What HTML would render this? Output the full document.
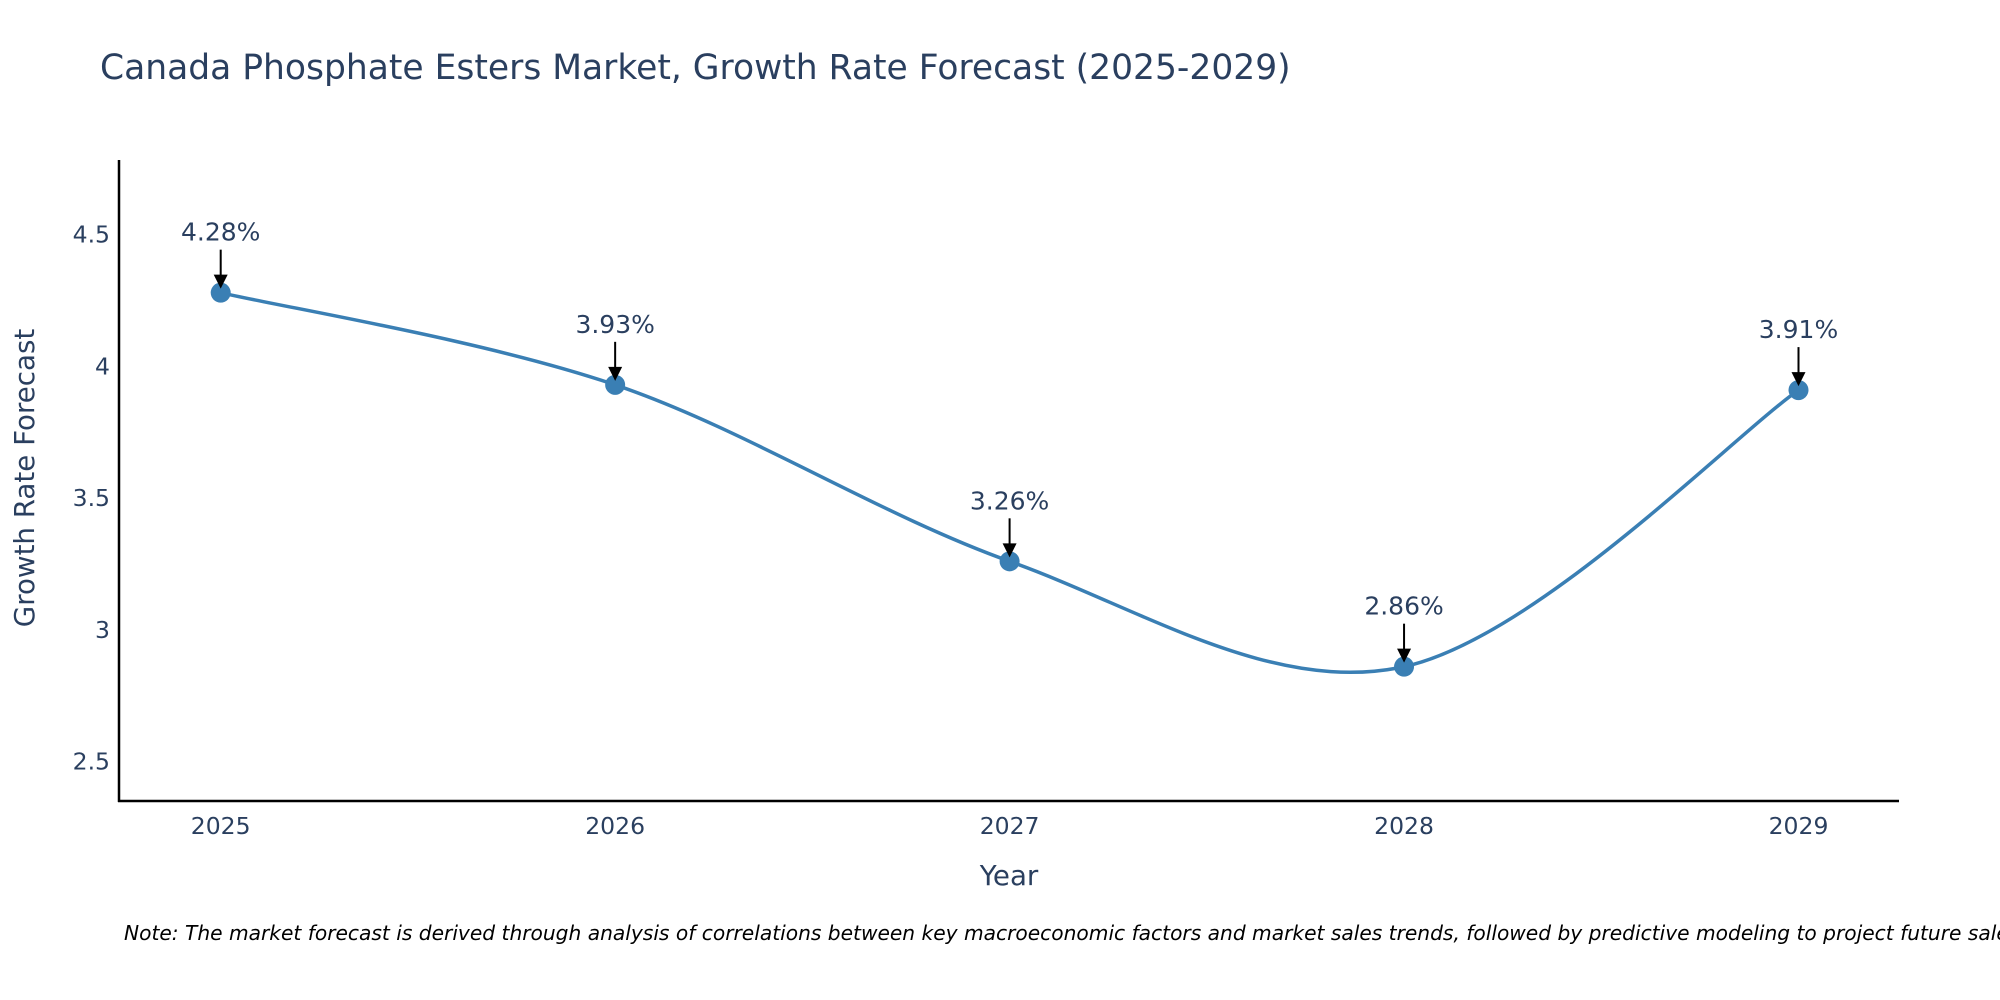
<!DOCTYPE html>
<html><head><meta charset="utf-8">
<style>
html,body{margin:0;padding:0;background:#fff;}
svg{display:block;font-family:"DejaVu Sans","Liberation Sans",sans-serif;}
</style></head>
<body>
<svg id="chart" width="2000" height="1000" viewBox="0 0 2000 1000">
  <text x="100" y="79" font-size="34.5" fill="#2a3f5f">Canada Phosphate Esters Market, Growth Rate Forecast (2025-2029)</text>
  <g id="yticks"></g>
  <g id="xticks"></g>
  <line x1="119" y1="160" x2="119" y2="802" stroke="#000" stroke-width="2.5"/>
  <line x1="118" y1="801" x2="1899" y2="801" stroke="#000" stroke-width="2.5"/>
  <text transform="translate(34,478) rotate(-90)" text-anchor="middle" font-size="27.7" fill="#2a3f5f">Growth Rate Forecast</text>
  <text x="1009" y="885" text-anchor="middle" font-size="27.7" fill="#2a3f5f">Year</text>
  <g id="series"></g>
  <g id="annots"></g>
  <text x="124" y="940" font-size="20.2" font-style="italic" fill="#000">Note: The market forecast is derived through analysis of correlations between key macroeconomic factors and market sales trends, followed by predictive modeling to project future sales.</text>
</svg>
<script>
const years = ["2025","2026","2027","2028","2029"];
const growth = [4.28, 3.93, 3.26, 2.86, 3.91];
const labels = ["4.28%","3.93%","3.26%","2.86%","3.91%"];
const yTickValues = [2.5, 3, 3.5, 4, 4.5];
const yTickLabels = ["2.5","3","3.5","4","4.5"];

const NS = "http://www.w3.org/2000/svg";
function xScale(i){ return 220.7 + i*(1798.5-220.7)/(years.length-1); }
function yScale(v){ return 761.5 - (v-2.5)*263.4; }
function mk(tag, attrs, parent){ const e=document.createElementNS(NS,tag); for(const k in attrs) e.setAttribute(k,attrs[k]); parent.appendChild(e); return e; }

const yt=document.getElementById('yticks');
yTickValues.forEach((v,i)=>{
  const t=mk('text',{x:110,y:yScale(v)+8,'text-anchor':'end','font-size':23.5,fill:'#2a3f5f'},yt);
  
  
  t.textContent=yTickLabels[i];
});
const xt=document.getElementById('xticks');
years.forEach((y,i)=>{
  const t=mk('text',{x:xScale(i),y:834,'text-anchor':'middle','font-size':23.5,fill:'#2a3f5f'},xt);
  
  
  t.textContent=y;
});

const pts=growth.map((v,i)=>[xScale(i),yScale(v)]);
let d=`M${pts[0][0]},${pts[0][1]}`;
for(let i=0;i<pts.length-1;i++){
  const p0=pts[Math.max(0,i-1)],p1=pts[i],p2=pts[i+1],p3=pts[Math.min(pts.length-1,i+2)];
  const k=1/6;
  const c1=[p1[0]+(p2[0]-p0[0])*k,p1[1]+(p2[1]-p0[1])*k];
  const c2=[p2[0]-(p3[0]-p1[0])*k,p2[1]-(p3[1]-p1[1])*k];
  d+=` C${c1[0]},${c1[1]} ${c2[0]},${c2[1]} ${p2[0]},${p2[1]}`;
}
const s=document.getElementById('series');
const line=mk('path',{d:d,fill:'none',stroke:'#3a7fb4','stroke-width':3.5},s);


const an=document.getElementById('annots');
pts.forEach((p,i)=>{
  const c=mk('circle',{cx:p[0],cy:p[1],r:10,fill:'#3a7fb4'},s);
  
  
  const l=mk('line',{x1:p[0],y1:p[1]-43,x2:p[0],y2:p[1]-14,stroke:'#000','stroke-width':2},an);
  
  
  const h=mk('polygon',{points:`${p[0]-7},${p[1]-18} ${p[0]+7},${p[1]-18} ${p[0]},${p[1]-4}`,fill:'#000'},an);
  
  
  const t=mk('text',{x:p[0],y:p[1]-52,'text-anchor':'middle','font-size':25,fill:'#2a3f5f'},an);
  
  
  t.textContent=labels[i];
});
</script>
</body></html>
